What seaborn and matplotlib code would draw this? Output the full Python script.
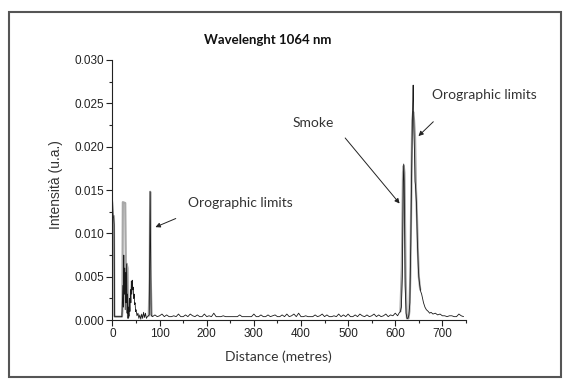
import numpy as np
import pandas as pd
import matplotlib
matplotlib.use("Agg")
import matplotlib.pyplot as plt
from matplotlib.patches import Rectangle
from matplotlib.ticker import MultipleLocator, FormatStrFormatter
import seaborn as sns

# ---------------- data ----------------
# black (raw) trace: near-range clutter + first orographic spike
near_x = [0, 0.5, 1.5, 2.5, 3.5, 4.5, 10, 20, 22, 23, 24, 25, 26, 27, 28, 29, 30, 31, 32, 33,
          34, 35, 36, 37, 38, 39, 40, 41, 42, 43, 44, 45, 46, 47, 48, 49, 50, 52, 54, 56,
          58, 60, 62, 64, 66, 68, 70, 72, 74, 76, 78, 79, 80, 81, 82]
near_y = [0.0140, 0.0135, 0.0120, 0.0118, 0.0110, 0.0004, 0.0004, 0.0004, 0.0040, 0.0015,
          0.0075, 0.0030, 0.0060, 0.0012, 0.0055, 0.0020, 0.0065, 0.0008, 0.0030, 0.0002,
          0.0015, 0.0005, 0.0025, 0.0010, 0.0035, 0.0020, 0.0045, 0.0030, 0.0046, 0.0035,
          0.0038, 0.0025, 0.0030, 0.0018, 0.0020, 0.0010, 0.0012, 0.0005, 0.0008, 0.0002,
          0.0006, 0.0001, 0.0007, 0.0002, 0.0009, 0.0003, 0.0008, 0.0002, 0.0004, 0.0005,
          0.0006, 0.0080, 0.0148, 0.0080, 0.0006]

# flat background between 85 m and 605 m (every 5 m)
base_x = list(range(85, 610, 5))
base_y = [0.0004, 0.0006, 0.0004, 0.0005, 0.0007, 0.0004, 0.0006, 0.0004, 0.0004, 0.0005,
          0.0004, 0.0007, 0.0004, 0.0004, 0.0006, 0.0004, 0.0007, 0.0005, 0.0004, 0.0006,
          0.0004, 0.0004, 0.0007, 0.0004, 0.0005, 0.0004, 0.0008, 0.0004, 0.0004, 0.0004,
          0.0005, 0.0004, 0.0004, 0.0004, 0.0004, 0.0004, 0.0004, 0.0006, 0.0004, 0.0004,
          0.0004, 0.0004, 0.0004, 0.0007, 0.0004, 0.0004, 0.0006, 0.0004, 0.0004, 0.0006,
          0.0004, 0.0005, 0.0006, 0.0004, 0.0004, 0.0006, 0.0004, 0.0007, 0.0004, 0.0005,
          0.0007, 0.0004, 0.0008, 0.0004, 0.0004, 0.0005, 0.0004, 0.0004, 0.0004, 0.0006,
          0.0004, 0.0005, 0.0007, 0.0004, 0.0006, 0.0004, 0.0004, 0.0005, 0.0004, 0.0007,
          0.0004, 0.0006, 0.0004, 0.0007, 0.0004, 0.0004, 0.0006, 0.0004, 0.0007, 0.0005,
          0.0004, 0.0006, 0.0004, 0.0005, 0.0007, 0.0004, 0.0006, 0.0004, 0.0005, 0.0007,
          0.0004, 0.0006, 0.0005, 0.0008, 0.0005]

# smoke plume and far orographic limit
far_x = [608, 611, 613, 615, 617, 618, 619, 621, 623, 625, 627, 629, 631, 633, 635, 637,
         638, 639, 640, 641, 642, 643, 644, 645, 646, 647, 648, 649, 650, 652, 654, 656,
         658, 660, 663, 666, 670, 673, 676, 680, 685, 690, 695, 700, 705, 710, 715, 720,
         725, 730, 735, 740, 745]
far_y = [0.0008, 0.0010, 0.0015, 0.0050, 0.0160, 0.0180, 0.0160, 0.0040, 0.0008, 0.0002,
         0.0002, 0.0006, 0.0020, 0.0090, 0.0180, 0.0250, 0.0271, 0.0240, 0.0210, 0.0190,
         0.0160, 0.0155, 0.0145, 0.0135, 0.0110, 0.0090, 0.0075, 0.0060, 0.0050, 0.0040,
         0.0033, 0.0030, 0.0025, 0.0020, 0.0015, 0.0012, 0.0010, 0.0008, 0.0009, 0.0007,
         0.0008, 0.0006, 0.0007, 0.0005, 0.0005, 0.0004, 0.0005, 0.0005, 0.0004, 0.0004,
         0.0007, 0.0005, 0.0004]

# grey (second) trace, only where it shows
grey_seg = ["a"] * 13 + ["b"] * 5 + ["c"] * 21
grey_x = [0, 3, 4, 5, 20, 21, 22, 27, 29, 30, 32, 33, 35,
          77, 79, 80, 81, 83,
          611, 614, 616.5, 618, 619.5, 622, 624, 625, 628, 630, 632, 634, 636, 638, 640, 642,
          644, 646, 648, 650, 653]
grey_y = [0.0120, 0.0120, 0.0005, 0.0004, 0.0004, 0.0010, 0.0136, 0.0135, 0.0030, 0.0065,
          0.0060, 0.0003, 0.0005,
          0.0005, 0.0050, 0.0148, 0.0050, 0.0005,
          0.0010, 0.0060, 0.0170, 0.0178, 0.0170, 0.0050, 0.0008, 0.0002, 0.0002, 0.0010,
          0.0050, 0.0140, 0.0230, 0.0240, 0.0230, 0.0210, 0.0150, 0.0120, 0.0080, 0.0050,
          0.0035]

title = "Wavelenght 1064 nm"
xlabel = "Distance (metres)"
ylabel = "Intensità (u.a.)"

# ---------------- figure ----------------
sns.set_style("ticks")
plt.rcParams["font.family"] = ["Liberation Sans", "DejaVu Sans"]

fig = plt.figure(figsize=(5.71, 3.82), dpi=100)
ax = fig.add_axes([0.197, 0.162, 0.619, 0.681])

black = pd.DataFrame({"x": near_x + base_x + far_x, "y": near_y + base_y + far_y})
grey = pd.DataFrame({"x": grey_x, "y": grey_y, "seg": grey_seg})

sns.lineplot(data=grey, x="x", y="y", units="seg", estimator=None, sort=False,
             color="#a8a8a8", lw=1.6, ax=ax)
sns.lineplot(data=black, x="x", y="y", estimator=None, sort=False,
             color="#1a1a1a", lw=0.6, ax=ax)

ax.set_xlim(0, 750)
ax.set_ylim(0, 0.030)
ax.xaxis.set_major_locator(MultipleLocator(100))
ax.xaxis.set_minor_locator(MultipleLocator(50))
ax.yaxis.set_major_locator(MultipleLocator(0.005))
ax.yaxis.set_minor_locator(MultipleLocator(0.0025))
ax.yaxis.set_major_formatter(FormatStrFormatter("%.3f"))
ax.tick_params(which="major", direction="out", length=4, width=0.8, labelsize=8.5,
               colors="#222222", pad=2)
ax.tick_params(which="minor", direction="out", length=2, width=0.8)
for s in ("top", "right"):
    ax.spines[s].set_visible(False)
for s in ("left", "bottom"):
    ax.spines[s].set_linewidth(0.8)
    ax.spines[s].set_color("#222222")

ax.set_xlabel(xlabel, fontsize=10, family=["Lato", "DejaVu Sans"], color="#333333")
ax.set_ylabel(ylabel, fontsize=10, color="#333333")
ax.xaxis.set_label_coords(0.47, -0.115)
ax.yaxis.set_label_coords(-0.14, 0.52)

fig.text(0.468, 0.895, title, ha="center", va="center", fontsize=9.5,
         fontweight="bold", family=["Lato", "DejaVu Sans"], color="#111111")

ann = dict(fontsize=10, family=["Lato", "DejaVu Sans"], color="#333333")
arw = dict(arrowstyle="-|>", color="#222222", lw=0.7, mutation_scale=7)
ax.annotate("", xy=(85.6, 0.0106), xytext=(139.7, 0.01184), arrowprops=arw)
ax.text(161, 0.0135, "Orographic limits", ha="left", va="center", **ann)
ax.annotate("", xy=(613, 0.0132), xytext=(490, 0.02125), arrowprops=arw)
ax.text(426, 0.0227, "Smoke", ha="center", va="center", **ann)
ax.annotate("", xy=(645, 0.0210), xytext=(685, 0.0231), arrowprops=arw)
ax.text(678, 0.0260, "Orographic limits", ha="left", va="center", clip_on=False, **ann)

fig.patches.append(Rectangle((0.0158, 0.013), 0.967, 0.955, transform=fig.transFigure,
                             fill=False, edgecolor="#555555", lw=1.5))

fig.savefig("out.png", dpi=100)
